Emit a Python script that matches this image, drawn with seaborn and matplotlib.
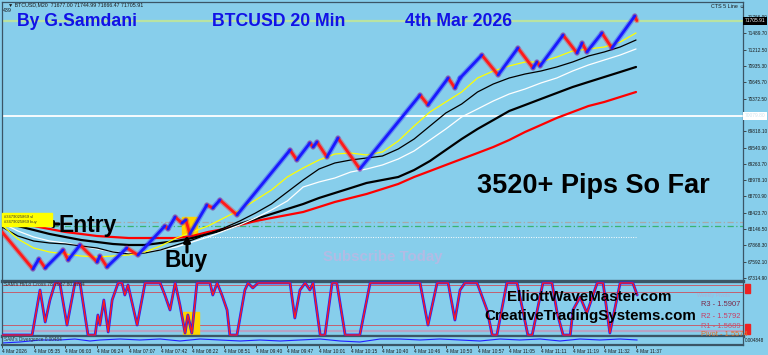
import numpy as np
import pandas as pd
import matplotlib
matplotlib.use("Agg")
import matplotlib.pyplot as plt
from matplotlib.patches import Rectangle
from matplotlib.transforms import blended_transform_factory
import seaborn as sns

sns.set_theme(style="white")
plt.rcParams['font.family'] = ['Liberation Sans', 'DejaVu Sans']

# ---------------- data ----------------
# renko-style zigzag close path (bar index, price)
ZZ_BAR = [0, 7.8, 9.3, 10.9, 15.4, 16.7, 19.7, 24.0, 24.7, 26.5, 31.5, 34.3, 41.1, 41.9, 43.7,
          45.4, 46.4, 47.4, 51.7, 53.2, 55.0, 59.3, 72.7, 74.4, 77.7, 78.5, 79.5, 82.0, 84.8,
          90.3, 105.5, 107.5, 112.6, 114.3, 115.6, 121.1, 125.2, 130.2, 134.0, 135.0, 135.8,
          141.6, 145.1, 146.4, 147.6, 151.4, 153.9, 159.7, 160.2]
ZZ_PRICE = [68100, 67468, 67639, 67486, 67793, 67622, 67878, 67588, 67690, 67503, 67827, 67707,
            68202, 68151, 68356, 68253, 68304, 68066, 68560, 68509, 68646, 68390, 69499, 69328,
            69618, 69550, 69635, 69379, 69703, 69174, 70437, 70266, 70727, 70556, 70727, 71119,
            70778, 71239, 70898, 71000, 70932, 71460, 71153, 71324, 71171, 71495, 71239, 71785,
            71706]

# moving averages sampled every 4 bars
MA_BAR = list(range(0, 161, 4))
MA_YELLOW = [68219, 67980, 67827, 67758, 67724, 67690, 67673, 67690, 67707, 67758, 67861, 67997,
             68100, 68202, 68339, 68475, 68646, 68816, 69038, 69192, 69328, 69430, 69447, 69413,
             69465, 69652, 69908, 70147, 70318, 70488, 70727, 70846, 70932, 71000, 71000, 71085,
             71188, 71222, 71256, 71341, 71495]
MA_BLACK_THIN = [68185, 68031, 67946, 67912, 67895, 67861, 67827, 67758, 67724, 67741, 67793,
                 67878, 67963, 68066, 68168, 68287, 68424, 68577, 68782, 68987, 69174, 69277,
                 69328, 69362, 69396, 69516, 69686, 69908, 70130, 70283, 70488, 70625, 70727,
                 70795, 70846, 70915, 71000, 71102, 71171, 71256, 71375]
MA_WHITE = [68253, 68117, 68014, 67946, 67912, 67861, 67810, 67758, 67741, 67758, 67793, 67844,
            67929, 68014, 68117, 68219, 68339, 68475, 68629, 68867, 68953, 69021, 69123, 69174,
            69243, 69345, 69482, 69669, 69857, 70062, 70198, 70335, 70454, 70539, 70642, 70727,
            70846, 70949, 71034, 71119, 71222]
MA_BLACK_THICK = [68270, 68202, 68134, 68066, 68014, 67963, 67929, 67895, 67878, 67878, 67912,
                  67946, 67997, 68066, 68134, 68236, 68322, 68407, 68492, 68577, 68680, 68765,
                  68850, 68936, 68987, 69038, 69157, 69311, 69499, 69686, 69857, 70010, 70164,
                  70266, 70369, 70471, 70573, 70659, 70744, 70829, 70915]
MA_RED = [68304, 68253, 68202, 68151, 68100, 68066, 68031, 68014, 67997, 67997, 67997, 67997,
          68031, 68100, 68151, 68219, 68287, 68339, 68390, 68441, 68526, 68612, 68680, 68748,
          68833, 68919, 69038, 69140, 69243, 69345, 69447, 69550, 69669, 69806, 69925, 70045,
          70147, 70249, 70318, 70403, 70488]

# horizontal levels
CUR_PRICE = 71705.91
WHITE_LEVEL = 70079.80
SL_LEVEL = 68270
ENTRY_LEVEL = 68202
DOT_LEVEL = 68014

PRICE_TICKS = [67314.9 + k * 278.25 for k in range(17)]
PRICE_TICK_LABELS = ["67314.90", "67592.10", "67868.30", "68146.50", "68423.70", "68700.90",
                     "68978.10", "69263.70", "69540.90", "69818.10", "", "70372.50",
                     "70645.70", "70935.30", "71212.50", "71489.70", "71766.90"]

# oscillator (SAM's Hi/Lo Cross)
OSC_BAR = [0, 7.6, 9.6, 10.9, 12.1, 13.4, 14.6, 16.4, 18.4, 19.7, 21.7, 23.5, 24.2, 24.7, 25.7,
           26.8, 27.8, 29.3, 30.3, 31.0, 31.8, 34.1, 36.1, 39.9, 41.1, 42.4, 43.7, 44.9, 46.2,
           46.9, 47.9, 49.2, 52.5, 53.2, 54.3, 55.5, 56.8, 57.5, 59.3, 61.3, 62.1, 63.3, 64.6,
           72.7, 73.9, 75.2, 76.5, 77.7, 78.5, 80.3, 81.5, 83.3, 84.5, 86.6, 90.3, 92.9, 105.5,
           107.5, 109.8, 112.6, 114.3, 115.6, 116.8, 119.9, 122.4, 123.7, 124.9, 127.4, 130.0,
           132.7, 133.8, 136.5, 138.8, 140.1, 141.6, 143.4, 144.1, 145.9, 147.6, 150.2, 151.7,
           153.4, 156.0, 159.2, 160.3]
OSC_VAL = [0, 0, 86.5, 25, 67.3, 100, 100, 19.2, 100, 100, 0, 0, 38.5, 19.2, 67.3, 5.8, 67.3,
           100, 100, 76.9, 96.2, 19.2, 100, 100, 76.9, 48.1, 100, 57.7, 3.8, 38.5, 3.8, 100, 100,
           76.9, 100, 76.9, 48.1, 0, 0, 86.5, 100, 90.4, 100, 100, 32.7, 86.5, 100, 86.5, 100, 0,
           0, 100, 100, 0, 0, 100, 100, 19.2, 100, 100, 28.8, 86.5, 100, 100, 48.1, 0, 0, 100,
           100, 0, 0, 100, 100, 42.3, 0, 0, 48.1, 73.1, 42.3, 100, 100, 3.8, 100, 100, 76.9]
OSC_LEVELS = [96, 83, 19]
OSC_LEVEL_LOW = 8

# divergence panel
DIV_BAR = [0, 4.5, 9.6, 14.6, 18.4, 22.2, 24.7, 29.8, 34.8, 39.9, 44.9, 50.0, 55.0, 60.1, 65.1,
           70.2, 75.2, 80.3, 85.3, 90.3, 95.4, 100.4, 105.5, 110.5, 115.6, 120.6, 125.7, 130.7,
           135.8, 140.8, 145.9, 150.9, 156.0, 160.3]
DIV_VAL = [0.002, 0.003, 0.005, 0.005, 0.006, 0.004, 0.005, 0.006, 0.005, 0.006, 0.004, 0.006,
           0.005, 0.004, 0.005, 0.004, 0.005, 0.006, 0.004, 0.003, 0.006, 0.006, 0.005, 0.006,
           0.005, 0.004, 0.006, 0.005, 0.006, 0.004, 0.006, 0.005, 0.006, 0.005]

TIME_BARS = list(range(0, 161, 8))
TIME_LABELS = ["4 Mar 2026", "4 Mar 05:35", "4 Mar 06:03", "4 Mar 06:24", "4 Mar 07:07",
               "4 Mar 07:42", "4 Mar 08:22", "4 Mar 08:51", "4 Mar 09:40", "4 Mar 09:47",
               "4 Mar 10:01", "4 Mar 10:15", "4 Mar 10:40", "4 Mar 10:46", "4 Mar 10:50",
               "4 Mar 10:57", "4 Mar 11:05", "4 Mar 11:11", "4 Mar 11:19", "4 Mar 11:32",
               "4 Mar 11:37"]

# ---------------- figure ----------------
BG = "#87CEEB"
EDGE = "#3a5566"
W, H = 768, 355
fig = plt.figure(figsize=(W / 100, H / 100), dpi=100)
fig.patch.set_facecolor(BG)


def ax_px(x0, y0, x1, y1):
    a = fig.add_axes([x0 / W, 1 - y1 / H, (x1 - x0) / W, (y1 - y0) / H])
    a.set_facecolor(BG)
    return a


def ftxt(x, y, s, **kw):
    kw.setdefault("va", "center")
    kw.setdefault("ha", "left")
    fig.text(x / W, 1 - y / H, s, **kw)


def farrow(x0, y0, x1, y1):
    fig.add_artist(matplotlib.patches.FancyArrowPatch(
        (x0 / W, 1 - y0 / H), (x1 / W, 1 - y1 / H), transform=fig.transFigure,
        arrowstyle="-|>", mutation_scale=9, lw=2.2, color="black", shrinkA=0, shrinkB=0))


ax = ax_px(2, 2, 743, 281)
osc = ax_px(2, 281, 743, 336)
div = ax_px(2, 336, 743, 345)

XMAX = 187.0
for a in (ax, osc, div):
    a.set_xlim(0, XMAX)
    for s in a.spines.values():
        s.set_color(EDGE)
        s.set_linewidth(0.9)
ax.set_ylim(67263.7, 72023.5)
osc.set_ylim(-1.9, 103.8)
div.set_ylim(0, 0.009)

# ---- main panel ----
ax.axhline(CUR_PRICE, color="#b9e3a2", lw=1.6, zorder=1)
ax.axhline(WHITE_LEVEL, color="white", lw=1.3, zorder=1)
ax.axhline(SL_LEVEL, color="#a8a8a8", lw=0.9, ls=(0, (5, 2, 1, 2)), zorder=1)
ax.axhline(ENTRY_LEVEL, color="#3cb371", lw=0.9, ls=(0, (5, 2, 1, 2)), zorder=1)
ax.hlines(DOT_LEVEL, 37, 160, color="white", lw=0.7, ls=(0, (1, 1.5)), zorder=1)

# Buy highlight
ax.add_patch(Rectangle((45.4, 68066), 3.8, 290, color="#ffd400", zorder=2))

sns.lineplot(x=MA_BAR, y=MA_RED, ax=ax, color="#ff0000", lw=1.6, estimator=None, sort=False, zorder=3)
sns.lineplot(x=MA_BAR, y=MA_BLACK_THICK, ax=ax, color="black", lw=1.6, estimator=None, sort=False, zorder=3)
sns.lineplot(x=MA_BAR, y=MA_WHITE, ax=ax, color="white", lw=0.9, estimator=None, sort=False, zorder=3)
sns.lineplot(x=MA_BAR, y=MA_BLACK_THIN, ax=ax, color="black", lw=0.9, estimator=None, sort=False, zorder=3)
sns.lineplot(x=MA_BAR, y=MA_YELLOW, ax=ax, color="#ffff00", lw=0.9, estimator=None, sort=False, zorder=3)

rows = []
for i in range(len(ZZ_BAR) - 1):
    d = "up" if ZZ_PRICE[i + 1] >= ZZ_PRICE[i] else "down"
    rows.append((ZZ_BAR[i], ZZ_PRICE[i], i, d))
    rows.append((ZZ_BAR[i + 1], ZZ_PRICE[i + 1], i, d))
zz = pd.DataFrame(rows, columns=["bar", "price", "seg", "dir"])
pal = {"up": "#1a1aff", "down": "#ff1a1a"}
sns.lineplot(data=zz, x="bar", y="price", hue="dir", units="seg", estimator=None, sort=False,
             palette=pal, lw=3.8, alpha=0.35, legend=False, ax=ax, zorder=4)
sns.lineplot(data=zz, x="bar", y="price", hue="dir", units="seg", estimator=None, sort=False,
             palette=pal, lw=2.0, legend=False, ax=ax, zorder=5)

ax.set_xlabel("")
ax.set_ylabel("")
ax.set_xticks([])
ax.yaxis.tick_right()
ax.set_yticks(PRICE_TICKS)
ax.set_yticklabels(PRICE_TICK_LABELS)
ax.tick_params(axis="y", which="both", right=True, length=1.8, width=0.6, color="#333333",
               pad=1.5, labelsize=3.4, labelcolor="#1a1a1a")
ax.spines["bottom"].set_visible(False)

tr = blended_transform_factory(ax.transAxes, ax.transData)
ax.text(1.002, CUR_PRICE, "71705.91", transform=tr, fontsize=3.5, color="white", va="center",
        ha="left", bbox=dict(boxstyle="square,pad=0.3", fc="black", ec="none"), clip_on=False)
ax.text(1.002, WHITE_LEVEL, "70079.80", transform=tr, fontsize=3.5, color="#cfe3ee", va="center",
        ha="left", bbox=dict(boxstyle="square,pad=0.3", fc="white", ec="none"), clip_on=False)

# ---- oscillator ----
for lv in OSC_LEVELS:
    osc.axhline(lv, color="#c26070", lw=0.7, zorder=1)
osc.axhline(OSC_LEVEL_LOW, color="#b8a2c4", lw=1.6, zorder=1)
osc.add_patch(Rectangle((45.7, -1.9), 4.0, 46, color="#ffd400", zorder=2))
sns.lineplot(x=OSC_BAR, y=OSC_VAL, ax=osc, color="#2020ff", lw=2.0, estimator=None, sort=False, zorder=3)
sns.lineplot(x=OSC_BAR, y=OSC_VAL, ax=osc, color="#ff1a1a", lw=1.0, estimator=None, sort=False, zorder=4)
osc.set_xticks([])
osc.set_yticks([])
osc.set_xlabel("")
osc.set_ylabel("")
osc.spines["top"].set_linewidth(2.4)
osc.spines["bottom"].set_linewidth(2.4)

# ---- divergence ----
sns.lineplot(x=DIV_BAR, y=DIV_VAL, ax=div, color="#2020ff", lw=0.8, estimator=None, sort=False)
div.set_yticks([])
div.set_xlabel("")
div.set_ylabel("")
div.set_xticks(TIME_BARS)
div.set_xticklabels(TIME_LABELS, ha="left")
div.tick_params(axis="x", bottom=True, length=1.8, width=0.6, color="#333333", pad=0.8,
                labelsize=3.5, labelcolor="#1a1a1a")
div.spines["bottom"].set_linewidth(1.6)

# ---------------- texts ----------------
ftxt(8, 5, "\u25bc BTCUSD,M20  71677.00 71744.99 71666.47 71705.91", fontsize=3.8, color="#1a1a1a")
ftxt(3, 11, "439", fontsize=3.8, color="#1a1a1a")
ftxt(711, 6, "CTS 5 Line \u263a", fontsize=3.9, color="#1a1a1a")

BLUE_T = "#1212e6"
ftxt(17, 21, "By G.Samdani", fontsize=12.7, fontweight="bold", color=BLUE_T)
ftxt(212, 21, "BTCUSD 20 Min", fontsize=12.7, fontweight="bold", color=BLUE_T)
ftxt(405, 21, "4th Mar 2026", fontsize=12.7, fontweight="bold", color=BLUE_T)

ftxt(477, 186, "3520+ Pips So Far", fontsize=19.5, fontweight="bold", color="black")
ftxt(323, 257, "Subscribe Today", fontsize=10.8, fontweight="bold", color="#b3bbe4")

# Entry label box + arrow
fig.add_artist(Rectangle((2 / W, 1 - 226 / H), 50 / W, 13 / H, transform=fig.transFigure,
                         color="#ffff00", zorder=2.5))
ftxt(4, 216.5, "#3479025869 sl", fontsize=3.0, color="#333333")
ftxt(4, 222, "#3479025869 buy", fontsize=3.0, color="#333333")
ftxt(59, 225, "Entry", fontsize=16.5, fontweight="bold", color="black")
farrow(59, 224, 45, 224)
ftxt(165, 261, "Buy", fontsize=16.5, fontweight="bold", color="black")
farrow(187, 252, 187, 235)

# oscillator texts
ftxt(4, 285, "SAM's Hi/Lo Cross 78.7937 80.8784", fontsize=3.6, color="#333333")
ftxt(4, 340, "SAM's Divergence 0.00484", fontsize=3.4, color="#333333")
ftxt(507, 297, "ElliottWaveMaster.com", fontsize=10.9, fontweight="bold", color="black")
ftxt(484, 316, "CreativeTradingSystems.com", fontsize=10.9, fontweight="bold", color="black")
ftxt(697, 295, "Weekly Pivots", fontsize=3.8, color="#a6b4da")
ftxt(701, 305, "R3 - 1.5907", fontsize=5.4, color="#7a2848")
ftxt(701, 316, "R2 - 1.5792", fontsize=5.4, color="#c83c64")
ftxt(701, 326, "R1 - 1.5689", fontsize=5.4, color="#c8506e")
ftxt(701, 335, "Pivot - 1.5574", fontsize=5.4, color="#e0702a")

for (y0, hh) in [(284, 9), (324, 10)]:
    fig.add_artist(Rectangle((745 / W, 1 - (y0 + hh) / H), 5 / W, hh / H,
                             transform=fig.transFigure, color="#ee2222"))
ftxt(745, 341, "0.004848", fontsize=3.3, color="#1a1a1a")

fig.savefig("out.png", dpi=100, facecolor=BG)
